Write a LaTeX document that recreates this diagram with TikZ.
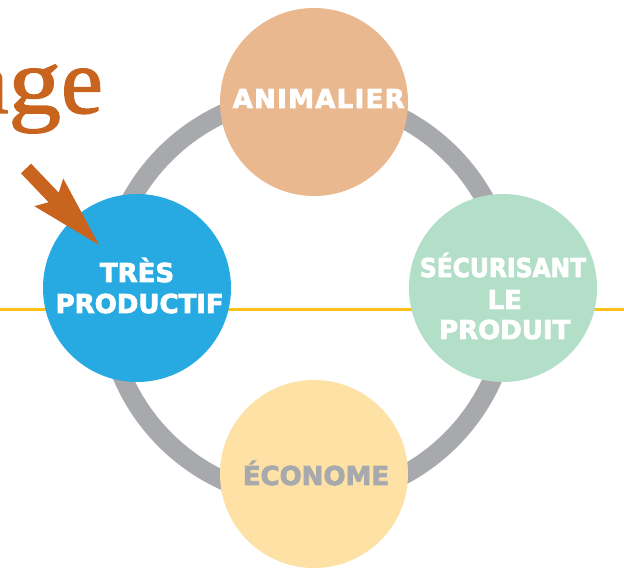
\documentclass[tikz,border=0pt]{standalone}
\usepackage{graphicx}
\usepackage{fontspec}
\newfontfamily\lblfont{DejaVu Sans}[BoldFeatures={FakeBold=3}]
\newfontfamily\agefont{Liberation Serif}[FakeBold=1.5]
\definecolor{peach}{RGB}{234,184,143}
\definecolor{skyblue}{RGB}{39,170,225}
\definecolor{mint}{RGB}{179,222,200}
\definecolor{cream}{RGB}{254,225,164}
\definecolor{ringgray}{RGB}{167,169,172}
\definecolor{rust}{RGB}{200,100,30}
\definecolor{gold}{RGB}{253,192,22}
\begin{document}
\begin{tikzpicture}[x=1pt,y=1pt,
  bubble/.style={circle, minimum size=188pt, inner sep=0pt, draw=none},
  lbl/.style={anchor=base, inner sep=0pt, text=white,
    font=\lblfont\bfseries\fontsize{26}{26}\selectfont}]
\useasboundingbox[fill=white] (0,0) rectangle (624,568);
% horizontal line
\coordinate (hl) at (0,258);
\coordinate (hr) at (624,258);
\draw[gold, line width=3pt] (hl) -- (hr);
% ring
\coordinate (rc) at (308,271);
\draw[ringgray, line width=19pt] (rc) circle[radius=202];
% circles
\node[bubble, fill=peach]   (anim) at (314,466) {};
\node[bubble, fill=skyblue] (prod) at (137,280) {};
\node[bubble, fill=mint]    (secu) at (503,280) {};
\node[bubble, fill=cream]   (econ) at (314,94) {};
% labels
\node[lbl] (animt) at (318.7,460) {\addfontfeature{LetterSpace=5}ANIMALIER};
\node[lbl] (prodt1) at (137,286) {TRÈS};
\node[lbl] (prodt2) at (139.7,255) {PRODUCTIF};
\node[lbl, xscale=0.9, transform shape] (secut1) at (503,291) {SÉCURISANT};
\node[lbl] (secut2) at (504.7,259) {LE};
\node[lbl] (secut3) at (504.7,229) {PRODUIT};
\node[lbl, text=ringgray] (econt) at (316,83) {ÉCONOME};
% title fragment
\node[anchor=base east, inner sep=0pt, text=rust,
  font=\agefont\fontsize{94}{94}\selectfont] (age) at (103,455) {a\scalebox{1.12}[1]{g}e};
% arrow
\begin{scope}[shift={(26,399.5)}, rotate=-46.3]
\fill[rust] (0,7) -- (40,7) -- (33,20) -- (105.7,0) -- (33,-20) -- (40,-7) -- (0,-7) -- cycle;
\end{scope}
\end{tikzpicture}
\end{document}
